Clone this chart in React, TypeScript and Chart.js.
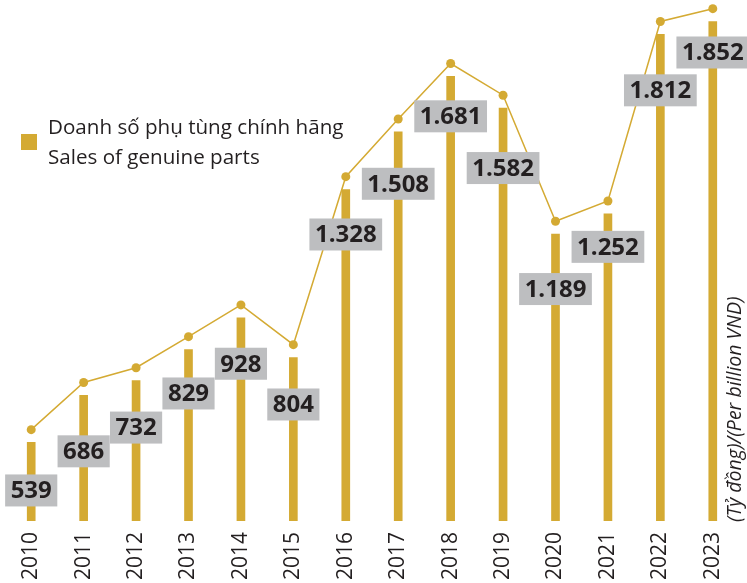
import React, { useEffect, useRef } from "react";
import { Chart, registerables } from "chart.js";

Chart.register(...registerables);

const years = ["2010", "2011", "2012", "2013", "2014", "2015", "2016", "2017", "2018", "2019", "2020", "2021", "2022", "2023"];
const sales = [539, 686, 732, 829, 928, 804, 1328, 1508, 1681, 1582, 1189, 1252, 1812, 1852];
const legendLines = ["Doanh số phụ tùng chính hãng", "Sales of genuine parts"];
const axisNote = "(Tỷ đồng)/(Per billion VND)";

// styling: how far below each bar top the value box is centred (px)
const LABEL_DROP = [48, 56, 47, 44, 46, 47, 45, 52, 40, 60, 55, 33, 56, 31];

const GOLD = "#d4aa33";
const BOX = "#bdbec0";
const INK = "#231f20";
const FONT = "'Open Sans', 'Noto Sans', sans-serif";

const Y_MIN = 294;
const Y_MAX = 1905;
const LINE_SHIFT = 40; // value units the connecting line sits above the bars

const fmt = (v: number) =>
  v >= 1000 ? `${Math.floor(v / 1000)}.${String(v % 1000).padStart(3, "0")}` : String(v);

const decorPlugin = {
  id: "decor",
  afterDatasetsDraw(chart: any) {
    const ctx = chart.ctx as CanvasRenderingContext2D;
    const meta = chart.getDatasetMeta(0);
    ctx.save();
    ctx.font = `700 24px ${FONT}`;
    ctx.textAlign = "center";
    ctx.textBaseline = "middle";
    meta.data.forEach((el: any, i: number) => {
      const txt = fmt(sales[i]);
      const w = ctx.measureText(txt).width + 11;
      const h = 32;
      const cx = el.x;
      const cy = el.y + LABEL_DROP[i];
      ctx.fillStyle = BOX;
      ctx.fillRect(cx - w / 2, cy - h / 2, w, h);
      ctx.fillStyle = INK;
      ctx.fillText(txt, cx, cy + 1);
    });
    ctx.restore();
  },
  afterDraw(chart: any) {
    const ctx = chart.ctx as CanvasRenderingContext2D;
    ctx.save();
    // legend
    ctx.fillStyle = GOLD;
    ctx.fillRect(21, 134, 16, 16);
    ctx.fillStyle = INK;
    ctx.font = `400 20.6px ${FONT}`;
    ctx.textAlign = "left";
    ctx.textBaseline = "alphabetic";
    ctx.fillText(legendLines[0], 48, 134);
    ctx.fillText(legendLines[1], 48, 164);
    // unit note on the right
    ctx.translate(735, 522);
    ctx.rotate(-Math.PI / 2);
    ctx.font = `italic 400 19.5px ${FONT}`;
    ctx.textBaseline = "middle";
    ctx.fillText(axisNote, 0, 0);
    ctx.restore();
  },
};

export default function App() {
  const ref = useRef<HTMLCanvasElement | null>(null);
  useEffect(() => {
    if (!ref.current) return;
    const chart = new Chart(ref.current, {
      type: "bar",
      data: {
        labels: years,
        datasets: [
          {
            type: "bar",
            data: sales,
            backgroundColor: GOLD,
            borderWidth: 0,
            barThickness: 8,
            yAxisID: "y",
            order: 2,
          } as any,
          {
            type: "line",
            data: sales,
            borderColor: GOLD,
            borderWidth: 1.5,
            pointRadius: 4.5,
            pointBackgroundColor: GOLD,
            pointBorderWidth: 0,
            tension: 0,
            clip: false,
            yAxisID: "y2",
            order: 1,
          } as any,
        ],
      },
      options: {
        responsive: false,
        animation: false,
        devicePixelRatio: 1,
        layout: { padding: { left: 5, right: 8, top: 0, bottom: 0 } },
        plugins: { legend: { display: false }, tooltip: { enabled: false } },
        scales: {
          x: {
            grid: { display: false },
            border: { display: false },
            ticks: {
              minRotation: 90,
              maxRotation: 90,
              padding: 3,
              color: INK,
              font: { family: FONT, size: 21 },
            },
            afterFit(s: any) {
              s.height = 62;
            },
          },
          y: { display: false, min: Y_MIN, max: Y_MAX },
          y2: { display: false, min: Y_MIN - LINE_SHIFT, max: Y_MAX - LINE_SHIFT },
        },
      } as any,
      plugins: [decorPlugin],
    });
    return () => chart.destroy();
  }, []);
  return (
    <div style={{ position: "absolute", left: 0, top: 0, width: 747, height: 583 }}>
      <canvas ref={ref} width={747} height={583} />
    </div>
  );
}
